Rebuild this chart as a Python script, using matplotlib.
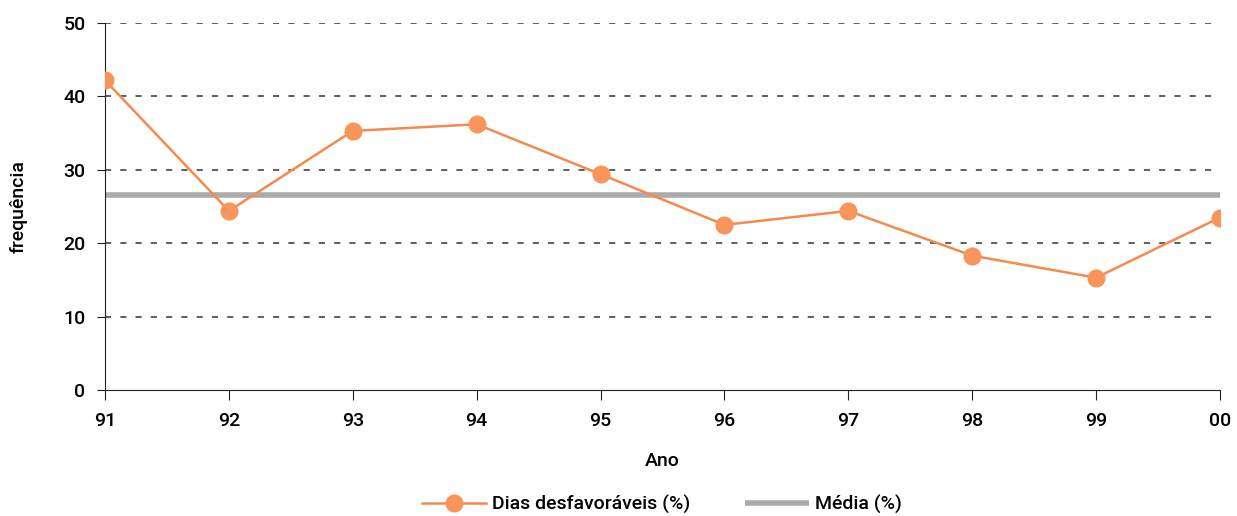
import matplotlib
matplotlib.use("Agg")
import matplotlib.pyplot as plt

anos = ["91", "92", "93", "94", "95", "96", "97", "98", "99", "00"]
dias_desfavoraveis = [42.2, 24.4, 35.3, 36.2, 29.4, 22.5, 24.4, 18.3, 15.3, 23.5]
media = 26.6
y_ticks = [0, 10, 20, 30, 40, 50]

plt.rcParams['font.family'] = ['Roboto', 'DejaVu Sans']
plt.rcParams['font.weight'] = 500
plt.rcParams['axes.labelweight'] = 500

fig = plt.figure(figsize=(12.37, 5.16), dpi=100)
ax = fig.add_axes([105/1237, 1-390/516, (1220-105)/1237, (390-23)/516])

x = list(range(len(anos)))
for yt in y_ticks[1:]:
    ax.axhline(yt, color='#333333', lw=1.1, ls=(0, (4, 6)), zorder=1)

ax.plot([x[0], x[-1]], [media, media], color='#ababab', lw=4, solid_capstyle='butt',
        zorder=2, label='Média (%)')
ax.plot(x, dias_desfavoraveis, color='#f58a4e', lw=1.8, marker='o', markersize=12,
        markerfacecolor='#f7955a', markeredgecolor='#f7955a', zorder=3,
        label='Dias desfavoráveis (%)')

ax.set_xlim(0, len(anos) - 1)
ax.set_ylim(0, 50)
ax.set_xticks(x)
ax.set_xticklabels(anos)
ax.set_yticks(y_ticks)
ax.spines['top'].set_visible(False)
ax.spines['right'].set_visible(False)
ax.spines['left'].set_color('#222222')
ax.spines['bottom'].set_color('#222222')
ax.tick_params(axis='x', direction='out', length=7, labelsize=14, pad=9, color='#222222')
ax.tick_params(axis='y', direction='out', length=6, labelsize=14, pad=8, color='#222222')
ax.set_xlabel('Ano', fontsize=14, labelpad=16)
ax.set_ylabel('frequência', fontsize=14, labelpad=26)

handles, labels = ax.get_legend_handles_labels()
fig.legend(handles[::-1], labels[::-1], loc='lower center', bbox_to_anchor=(0.535, -0.03),
           ncol=2, frameon=False, fontsize=14, handlelength=3.3, columnspacing=2.8,
           handletextpad=0.3)

fig.savefig('out.png', dpi=100)
